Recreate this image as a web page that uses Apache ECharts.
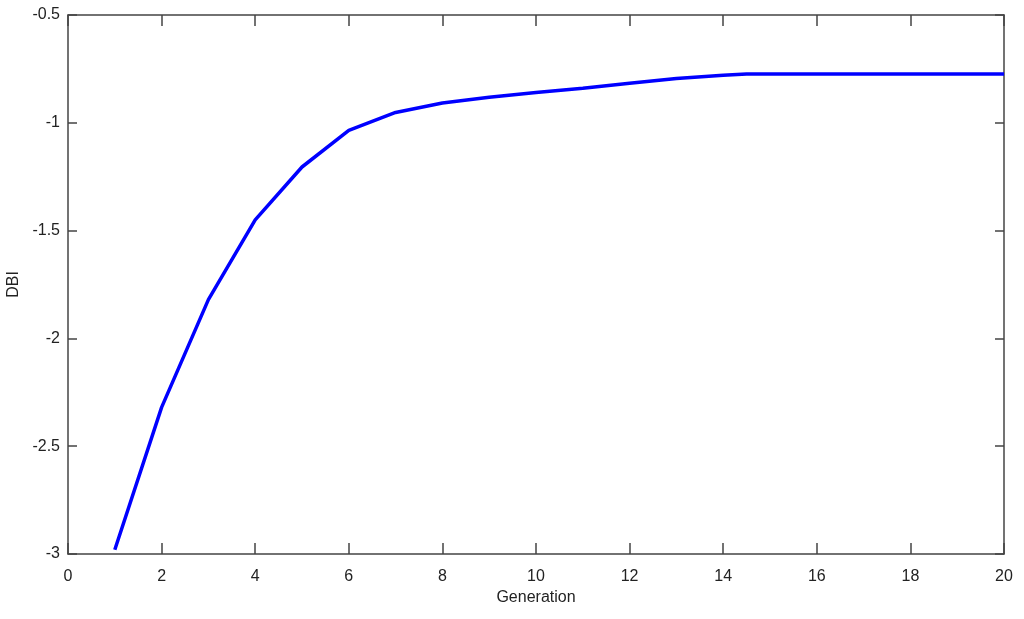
<!DOCTYPE html>
<html>
<head>
<meta charset="utf-8">
<script src="https://cdn.jsdelivr.net/npm/echarts@6/dist/echarts.min.js"></script>
<style>html,body{margin:0;padding:0;background:#fff}#c{width:1024px;height:619px}</style>
</head>
<body>
<div id="c"></div>
<script>
const generations = [1,2,3,4,5,6,7,8,9,10,11,12,13,14,14.5,15,16,17,18,19,20];
const dbi = [-2.98,-2.32,-1.82,-1.45,-1.205,-1.035,-0.952,-0.908,-0.882,-0.860,-0.840,-0.817,-0.795,-0.779,-0.774,-0.774,-0.774,-0.774,-0.774,-0.774,-0.774];
const xTicks = {min:0, max:20, interval:2};
const yTicks = {min:-3, max:-0.5, interval:0.5};

const chart = echarts.init(document.getElementById('c'), null, {renderer:'canvas'});
const font = {fontFamily:'"Liberation Sans", Arial, sans-serif', fontSize:16, color:'#222'};
const axLine = {show:true, onZero:false, lineStyle:{color:'#444', width:1.5}};
const xTick = {show:true, inside:true, length:11, lineStyle:{color:'#444', width:1.5}};
const yTick = {show:true, inside:true, length:9, lineStyle:{color:'#444', width:1.5}};
chart.setOption({
  animation:false,
  backgroundColor:'#fff',
  grid:{left:68, right:20, top:15, bottom:65, containLabel:false, outerBoundsMode:'none'},
  xAxis:[{
    type:'value', min:xTicks.min, max:xTicks.max, interval:xTicks.interval, position:'bottom',
    name:'Generation', nameLocation:'middle', nameGap:35, nameTextStyle:{...font},
    axisLine:axLine, axisTick:xTick,
    axisLabel:{...font, margin:15}, splitLine:{show:false}
  },{
    type:'value', min:xTicks.min, max:xTicks.max, interval:xTicks.interval, position:'top',
    axisLine:axLine, axisTick:xTick,
    axisLabel:{show:false}, splitLine:{show:false}
  }],
  yAxis:[{
    type:'value', min:yTicks.min, max:yTicks.max, interval:yTicks.interval, position:'left',
    name:'DBI', nameLocation:'middle', nameGap:44, nameRotate:90, nameTextStyle:{...font},
    axisLine:axLine, axisTick:yTick,
    axisLabel:{...font, margin:8}, splitLine:{show:false}
  },{
    type:'value', min:yTicks.min, max:yTicks.max, interval:yTicks.interval, position:'right',
    axisLine:axLine, axisTick:yTick,
    axisLabel:{show:false}, splitLine:{show:false}
  }],
  series:[{
    type:'line', xAxisIndex:0, yAxisIndex:0,
    data: generations.map((g,i)=>[g, dbi[i]]),
    showSymbol:false, symbol:'none',
    lineStyle:{color:'#0000ff', width:3.5},
    smooth:false
  }]
});
</script>
</body>
</html>
